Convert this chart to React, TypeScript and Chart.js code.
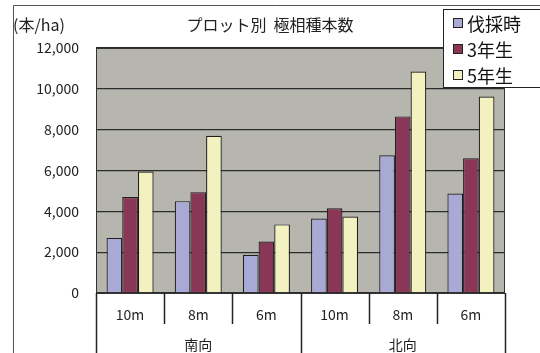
import React, { useEffect, useRef } from "react";
import { Chart, registerables } from "chart.js";

Chart.register(...registerables);

const categories = ["10m", "8m", "6m", "10m", "8m", "6m"];
const groups = ["南向", "北向"];
const groupSizes = [3, 3];
const seriesNames = ["伐採時", "3年生", "5年生"];
const felling = [2700, 4500, 1870, 3650, 6750, 4870];
const year3 = [4700, 4940, 2520, 4150, 8650, 6600];
const year5 = [5950, 7700, 3360, 3750, 10850, 9620];
const yTicks = [0, 2000, 4000, 6000, 8000, 10000, 12000];
const titleText = "プロット別  極相種本数";
const unitText = "(本/ha)";

const colors = ["#a9a9d6", "#8a3656", "#f3f1c0"];
const FONT = "'Noto Sans CJK JP', 'Noto Sans', sans-serif";

export default function App() {
  const ref = useRef<HTMLCanvasElement | null>(null);
  useEffect(() => {
    if (!ref.current) return;
    const decor = {
      id: "decor",
      beforeDraw(chart: any) {
        const { ctx, chartArea: a } = chart;
        ctx.save();
        ctx.fillStyle = "#ffffff";
        ctx.fillRect(0, 0, chart.width, chart.height);
        ctx.fillStyle = "#b6b6ae";
        ctx.fillRect(a.left, a.top, a.right - a.left, a.bottom - a.top);
        ctx.restore();
      },
      afterDraw(chart: any) {
        const { ctx, chartArea: a } = chart;
        const x = chart.scales.x;
        ctx.save();
        // outer frame
        ctx.strokeStyle = "#555";
        ctx.lineWidth = 1;
        ctx.beginPath();
        ctx.moveTo(13.5, 353);
        ctx.lineTo(13.5, 5.5);
        ctx.lineTo(540, 5.5);
        ctx.stroke();
        // plot border
        ctx.strokeStyle = "#333";
        ctx.strokeRect(a.left + 0.5, a.top + 0.5, a.right - a.left - 1, a.bottom - a.top);
        // category separators
        const n = categories.length;
        const bounds: number[] = [];
        for (let i = 0; i <= n; i++) {
          const px = i < n ? x.getPixelForValue(i) - (x.getPixelForValue(1) - x.getPixelForValue(0)) / 2 : x.getPixelForValue(n - 1) + (x.getPixelForValue(1) - x.getPixelForValue(0)) / 2;
          bounds.push(px);
        }
        const groupEdges = new Set<number>([0]);
        let acc = 0;
        groupSizes.forEach((s) => { acc += s; groupEdges.add(acc); });
        ctx.strokeStyle = "#222";
        ctx.lineWidth = 1.5;
        bounds.forEach((bx, i) => {
          ctx.beginPath();
          ctx.moveTo(Math.round(bx) + 0.5, a.bottom);
          ctx.lineTo(Math.round(bx) + 0.5, groupEdges.has(i) ? 353 : a.bottom + 31);
          ctx.stroke();
        });
        // category labels
        ctx.fillStyle = "#222";
        ctx.font = `14px ${FONT}`;
        ctx.textAlign = "center";
        ctx.textBaseline = "middle";
        categories.forEach((c, i) => {
          ctx.fillText(c, x.getPixelForValue(i), a.bottom + 22);
        });
        // group labels
        let start = 0;
        groupSizes.forEach((s, gi) => {
          const cx = (bounds[start] + bounds[start + s]) / 2;
          ctx.fillText(groups[gi], cx, a.bottom + 52);
          start += s;
        });
        // title & unit
        ctx.font = `16px ${FONT}`;
        ctx.fillStyle = "#222";
        ctx.fillText(titleText, 270, 25);
        ctx.textAlign = "left";
        ctx.fillText(unitText, 13, 25);
        // legend
        ctx.fillStyle = "#ffffff";
        ctx.fillRect(443, 9, 97, 78);
        ctx.strokeStyle = "#222";
        ctx.lineWidth = 1;
        ctx.strokeRect(443.5, 9.5, 97, 78);
        const ys = [23, 49, 75];
        ctx.font = `18px ${FONT}`;
        seriesNames.forEach((name, i) => {
          ctx.fillStyle = colors[i];
          ctx.fillRect(453, ys[i] - 5, 9, 9);
          ctx.strokeStyle = "#222";
          ctx.strokeRect(453.5, ys[i] - 4.5, 9, 9);
          ctx.fillStyle = "#111";
          ctx.textAlign = "left";
          ctx.fillText(name, 467, ys[i] + 1);
        });
        ctx.restore();
      },
    };
    const chart = new Chart(ref.current, {
      type: "bar",
      data: {
        labels: categories,
        datasets: [felling, year3, year5].map((d, i) => ({
          label: seriesNames[i],
          data: d,
          backgroundColor: colors[i],
          borderColor: "#1e1e1e",
          borderWidth: 1.2,
          categoryPercentage: 0.69,
          barPercentage: 1,
        })),
      },
      options: {
        responsive: false,
        animation: false,
        layout: { padding: { left: 0, right: 35, top: 48, bottom: 60 } },
        plugins: { legend: { display: false }, title: { display: false }, tooltip: { enabled: false } },
        scales: {
          x: { display: false },
          y: {
            min: 0,
            max: 12000,
            afterFit(scale: any) { scale.width = 96; },
            afterBuildTicks(scale: any) { scale.ticks = yTicks.map((v) => ({ value: v })); },
            ticks: {
              padding: 17,
              color: "#222",
              font: { family: FONT, size: 14 },
              callback: (v: any) => Number(v).toLocaleString("en-US"),
            },
            grid: { color: "#2c2c2c", lineWidth: 1.3, drawTicks: false },
            border: { display: false },
          },
        },
      },
      plugins: [decor],
    });
    return () => chart.destroy();
  }, []);
  return (
    <div style={{ position: "fixed", left: 0, top: 0, width: 540, height: 353 }}>
      <canvas ref={ref} width={540} height={353} style={{ width: 540, height: 353 }} />
    </div>
  );
}
